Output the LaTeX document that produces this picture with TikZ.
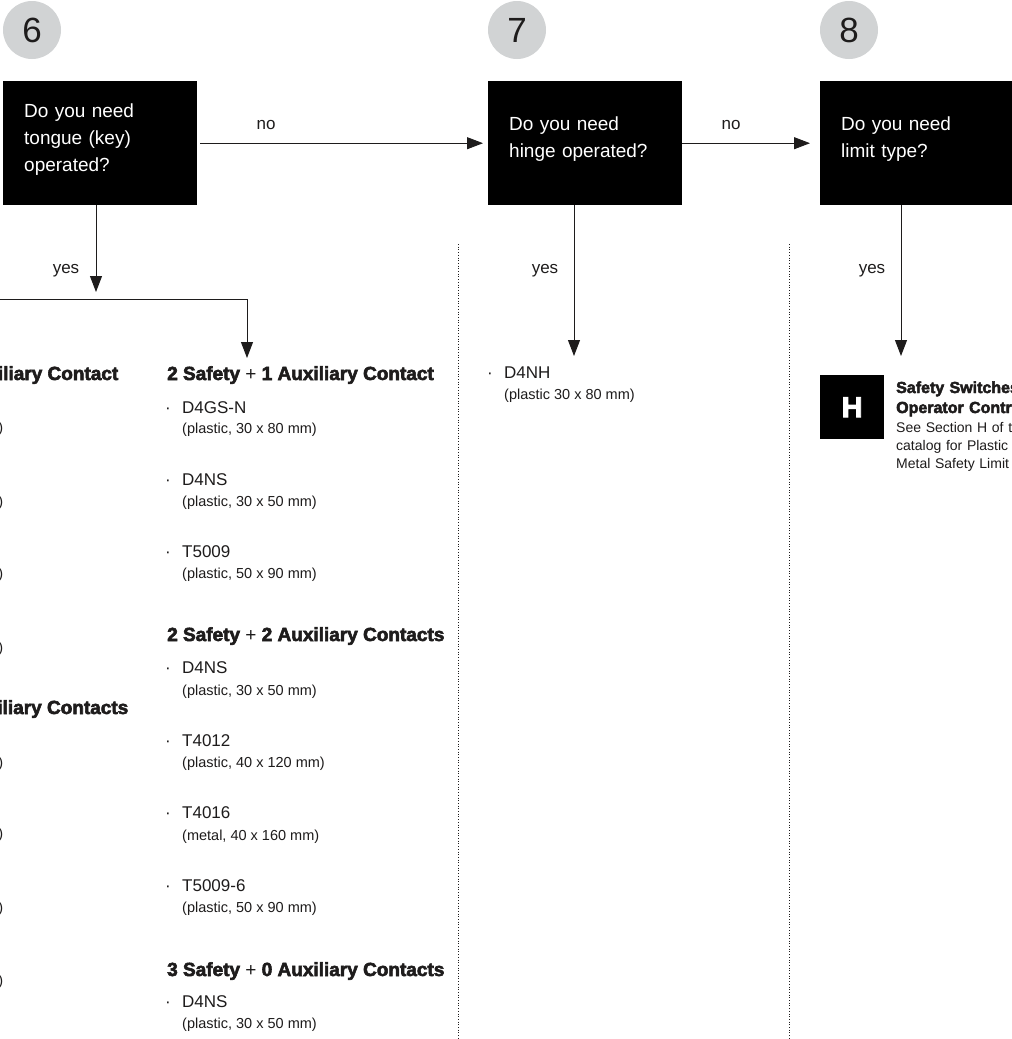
\documentclass[tikz,border=0pt]{standalone}
\usepackage{fontspec}
\setmainfont{Liberation Sans}
\newfontfamily\heavyfont{Liberation Sans}[BoldFeatures={FakeBold=3}]
\usetikzlibrary{arrows.meta}
\definecolor{circgray}{RGB}{209,211,212}
\definecolor{ink}{RGB}{30,28,28}
\begin{document}
\begin{tikzpicture}[x=1pt,y=-1pt,
  qbox/.style={fill=black, draw=none, minimum width=194pt, minimum height=124pt, anchor=north west, inner sep=0pt},
  qtext/.style={text=white, font=\fontsize{19pt}{27pt}\selectfont, text width=180pt, align=left, anchor=base west, inner sep=0pt},
  num/.style={circle, fill=circgray, minimum size=58pt, inner sep=0pt, text=ink, font=\fontsize{35pt}{35pt}\selectfont},
  arr/.style={line width=0.9pt, draw=ink, -{Triangle[length=16pt,width=12pt]}},
  lbl/.style={font=\fontsize{17pt}{17pt}\selectfont, text=ink, anchor=base, inner sep=0pt},
  head/.style={font=\fontsize{19pt}{19pt}\selectfont\heavyfont\bfseries, text=ink, anchor=base west, inner sep=0pt},
  iname/.style={font=\fontsize{17pt}{17pt}\selectfont, text=ink, anchor=base west, inner sep=0pt},
  idesc/.style={font=\fontsize{14.5pt}{14.5pt}\selectfont, text=ink, anchor=base west, inner sep=0pt},
  bul/.style={font=\fontsize{17pt}{17pt}\selectfont, text=ink, anchor=base, inner sep=0pt},
  divider/.style={line width=0.9pt, draw=ink, dash pattern=on 0.9pt off 1.8pt},
]
\useasboundingbox (0,0) rectangle (1012,1039);
\fill[white] (0,0) rectangle (1012,1039);
\clip (0,0) rectangle (1012,1039);

% step numbers
\node[num] (c6) at (32,30) {6};
\node[num] (c7) at (517,30) {7};
\node[num] (c8) at (849,30) {8};

% question boxes
\node[qbox] (q6) at (3,81) {};
\node[qbox] (q7) at (488,81) {};
\node[qbox] (q8) at (820,81) {};
\node[qtext] (q6t) at (24,117) {Do you need\\tongue (key)\\operated?};
\node[qtext] (q7t) at (509,130) {Do you need\\hinge operated?};
\node[qtext] (q8t) at (841,130) {Do you need\\limit type?};

% no arrows
\draw[arr, shorten <=3pt, shorten >=5pt] (q6.east) -- (q7.west);
\draw[arr, shorten >=10pt] (q7.east) -- (q8.west);
\node[lbl] (no6) at (266,129) {no};
\node[lbl] (no7) at (731,129) {no};

% yes arrows
\coordinate (y6) at (96,292);
\coordinate (y7) at (574,356);
\coordinate (y8) at (901,356);
\draw[arr] (q6.south -| y6) -- (y6);
\draw[arr] (q7.south -| y7) -- (y7);
\draw[arr] (q8.south -| y8) -- (y8);
\node[lbl] (yes6) at (66,273) {yes};
\node[lbl] (yes7) at (545,273) {yes};
\node[lbl] (yes8) at (872,273) {yes};

% bracket to column of step 6
\coordinate (brl) at (-10,299);
\coordinate (brt) at (247,358);
\draw[arr] (brl) -| (brt);

% dotted dividers
\coordinate (d1t) at (458,244);
\coordinate (d1b) at (458,1039);
\coordinate (d2t) at (789,244);
\coordinate (d2b) at (789,1039);
\draw[divider] (d1t) -- (d1b);
\draw[divider] (d2t) -- (d2b);

% left (cut-off) column
\node[head, anchor=base east] (lh1) at (118.5,380) {Auxiliary Contact};
\node[head, anchor=base east] (lh2) at (128.5,714) {Auxiliary Contacts};
\foreach \yy [count=\i] in {432,506,578,652,767,838,912,985}
  \node[idesc, anchor=base east] (lp\i) at (3.5,\yy) {)};

% right column of step 6
\node[head] (h1) at (167,380) {2 Safety {\normalfont+} 1 Auxiliary Contact};
\node[bul] (b1) at (168,413) {·};
\node[iname] (i1) at (182,413) {D4GS-N};
\node[idesc] (p1) at (182,433) {(plastic, 30 x 80 mm)};
\node[bul] (b2) at (168,485) {·};
\node[iname] (i2) at (182,485) {D4NS};
\node[idesc] (p2) at (182,506) {(plastic, 30 x 50 mm)};
\node[bul] (b3) at (168,557) {·};
\node[iname] (i3) at (182,557) {T5009};
\node[idesc] (p3) at (182,578) {(plastic, 50 x 90 mm)};

\node[head] (h2) at (167,641) {2 Safety {\normalfont+} 2 Auxiliary Contacts};
\node[bul] (b4) at (168,673) {·};
\node[iname] (i4) at (182,673) {D4NS};
\node[idesc] (p4) at (182,695) {(plastic, 30 x 50 mm)};
\node[bul] (b5) at (168,746) {·};
\node[iname] (i5) at (182,746) {T4012};
\node[idesc] (p5) at (182,767) {(plastic, 40 x 120 mm)};
\node[bul] (b6) at (168,818) {·};
\node[iname] (i6) at (182,818) {T4016};
\node[idesc] (p6) at (182,840) {(metal, 40 x 160 mm)};
\node[bul] (b7) at (168,891) {·};
\node[iname] (i7) at (182,891) {T5009-6};
\node[idesc] (p7) at (182,912) {(plastic, 50 x 90 mm)};

\node[head] (h3) at (167,976) {3 Safety {\normalfont+} 0 Auxiliary Contacts};
\node[bul] (b8) at (168,1007) {·};
\node[iname] (i8) at (182,1007) {D4NS};
\node[idesc] (p8) at (182,1028) {(plastic, 30 x 50 mm)};

% step 7 result
\node[bul] (b9) at (490,378) {·};
\node[iname] (i9) at (504,378) {D4NH};
\node[idesc] (p9) at (504,399) {(plastic 30 x 80 mm)};

% step 8 result
\node[fill=black, minimum size=64pt, inner sep=0pt, anchor=north west, text=white,
  font=\fontsize{29pt}{29pt}\selectfont\heavyfont\bfseries] (hbox) at (820,375) {H};
\node[anchor=base west, inner sep=0pt, text=ink, text width=200pt, align=left,
  font=\fontsize{16pt}{20pt}\selectfont\heavyfont\bfseries] (ht) at (896,393) {Safety Switches\\Operator Controls};
\node[anchor=base west, inner sep=0pt, text=ink, text width=200pt, align=left,
  font=\fontsize{14pt}{18pt}\selectfont] (hd) at (896,432) {See Section H of the\\catalog for Plastic\\Metal Safety Limit};
\end{tikzpicture}
\end{document}
